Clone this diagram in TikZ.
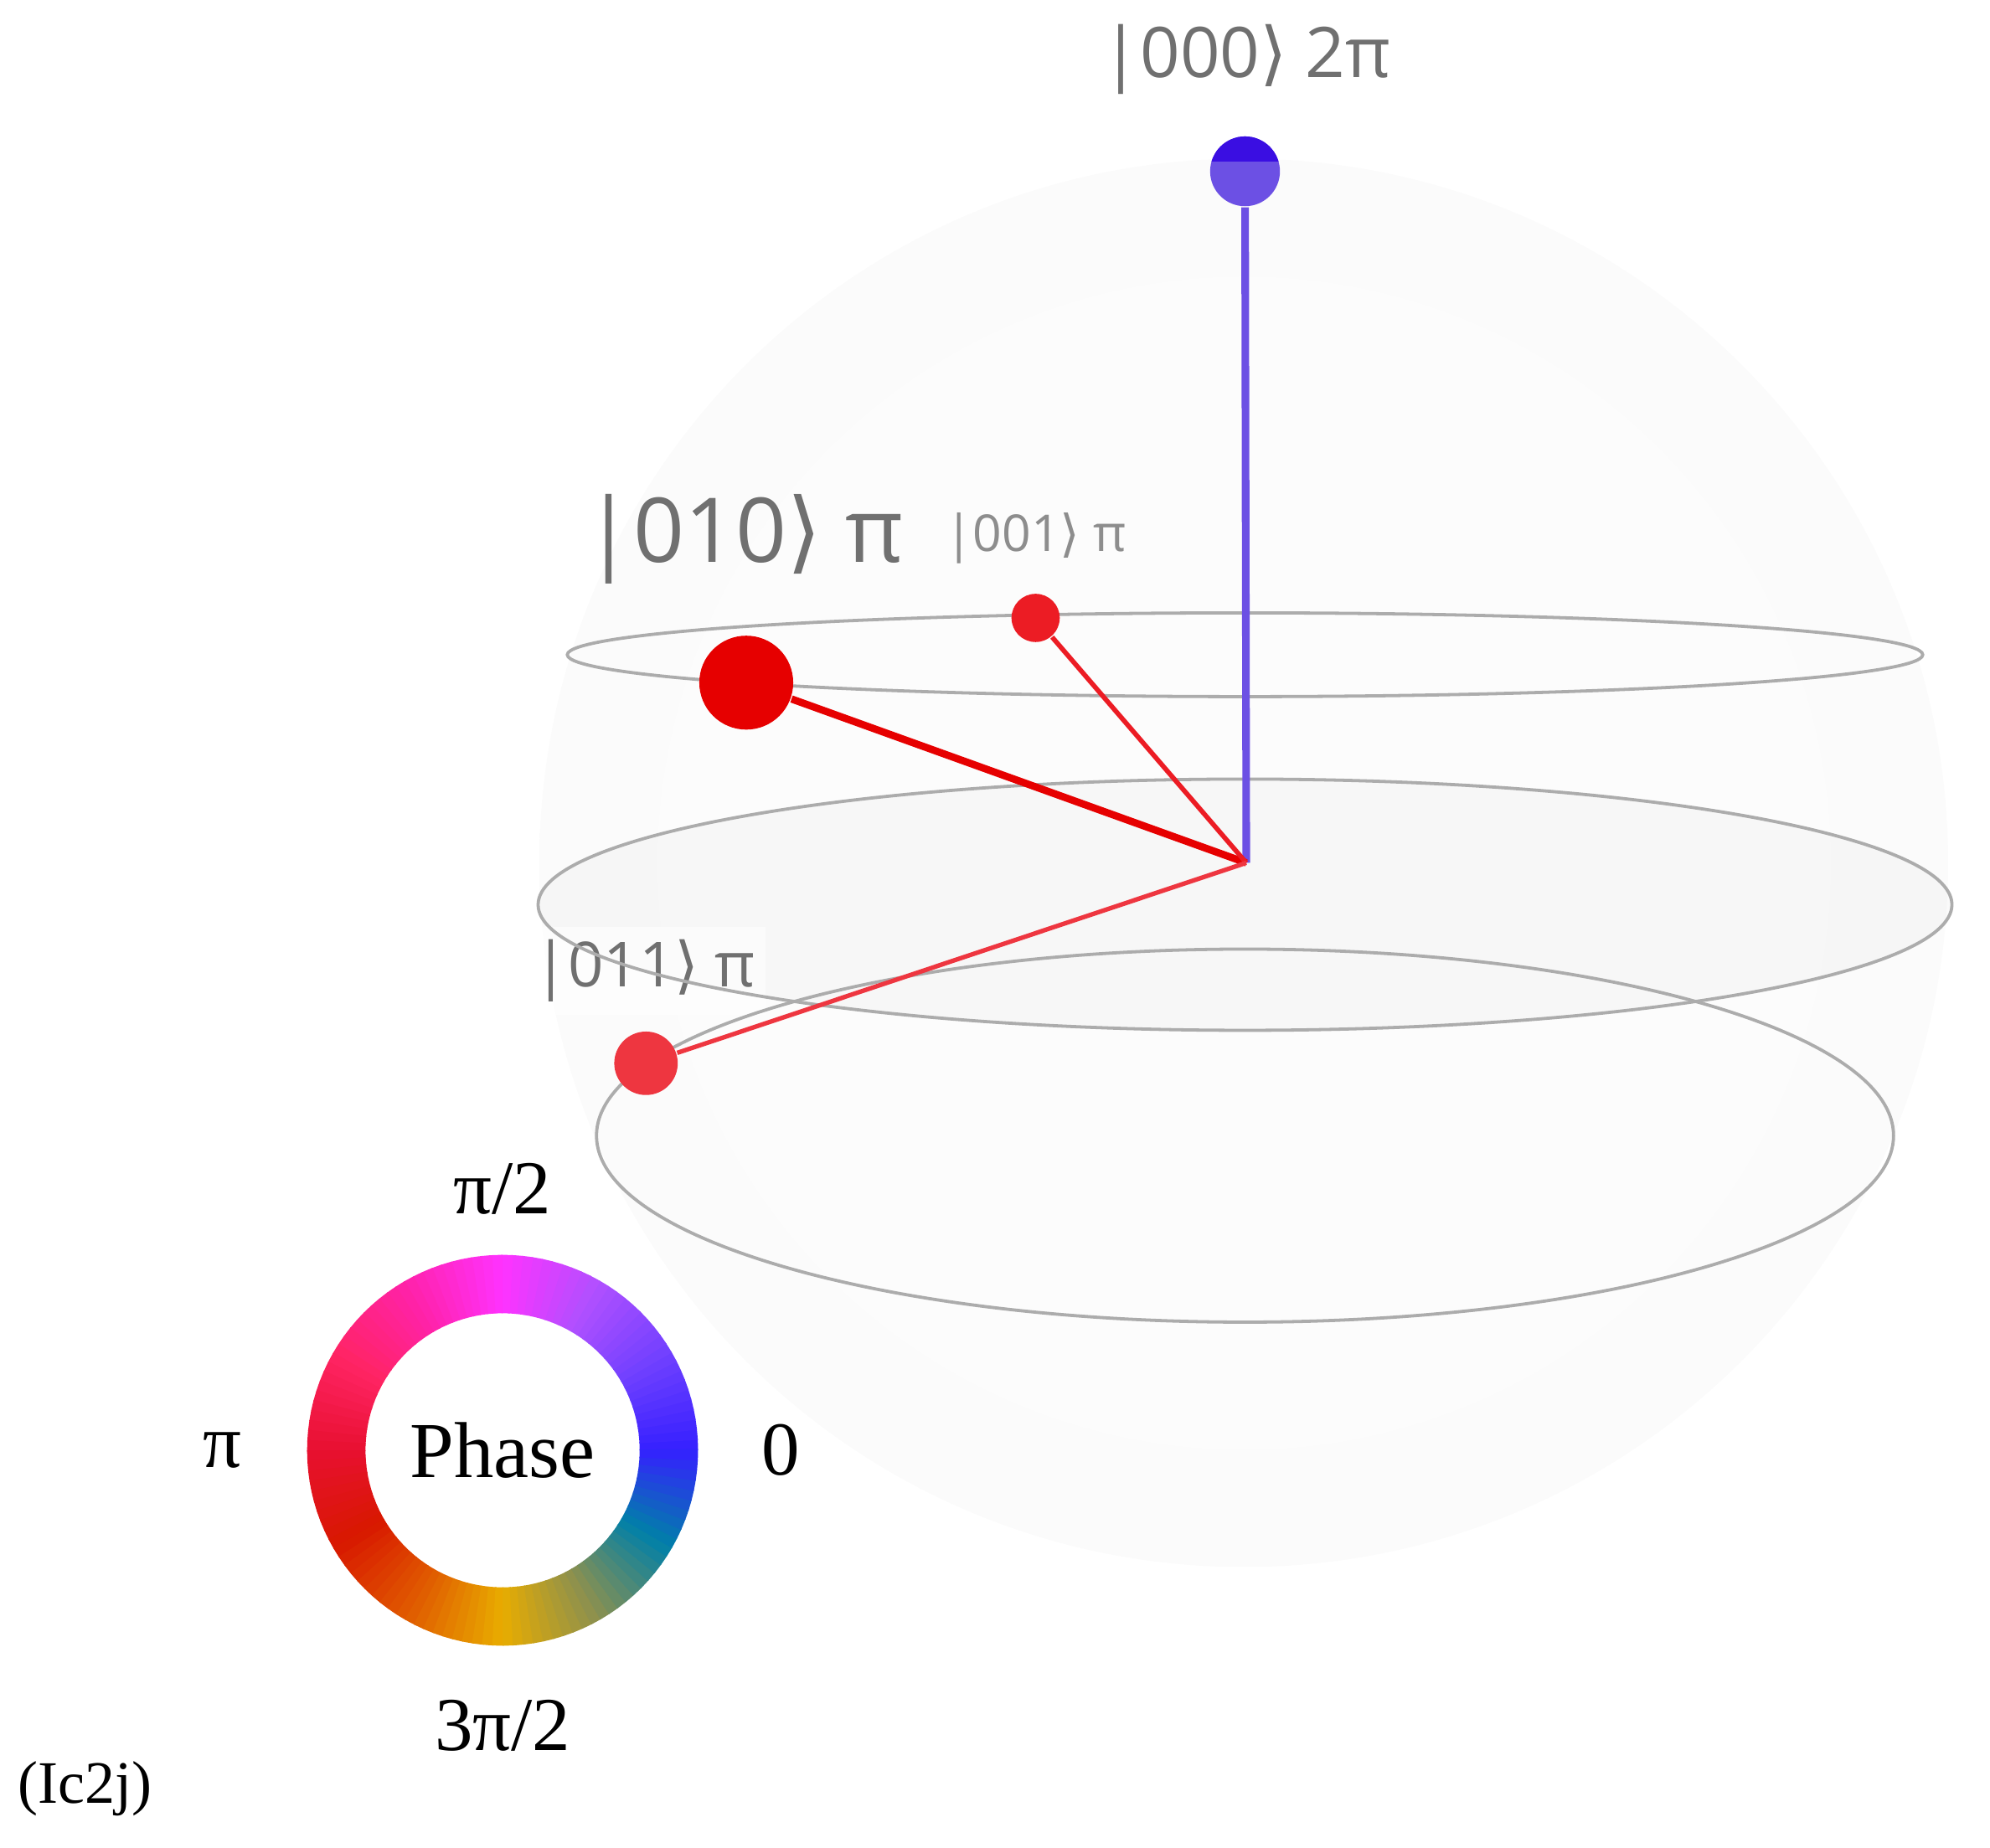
\documentclass[tikz,border=0pt]{standalone}
\usepackage{fontspec}
\setmainfont{Liberation Serif}
\newfontfamily\qsfont{Open Sans}
\newfontfamily\ketfont{DejaVu Sans}
\newcommand{\rket}{{\ketfont ⟩}}

\definecolor{lblgray}{RGB}{112,112,112}
\definecolor{ringgray}{RGB}{172,172,172}
\definecolor{qred}{RGB}{230,0,0}
\definecolor{qredmid}{RGB}{236,28,36}
\definecolor{qredlight}{RGB}{238,54,64}
\definecolor{qbluedark}{RGB}{58,14,226}
\definecolor{qblue}{RGB}{108,80,228}
% phase wheel colours, every 30 degrees
\definecolor{ph0}{RGB}{53,32,255}
\definecolor{ph1}{RGB}{112,64,255}
\definecolor{ph2}{RGB}{176,80,255}
\definecolor{ph3}{RGB}{255,50,255}
\definecolor{ph4}{RGB}{255,34,170}
\definecolor{ph5}{RGB}{255,36,100}
\definecolor{ph6}{RGB}{232,16,48}
\definecolor{ph7}{RGB}{216,24,0}
\definecolor{ph8}{RGB}{224,90,0}
\definecolor{ph9}{RGB}{232,172,0}
\definecolor{ph10}{RGB}{138,144,80}
\definecolor{ph11}{RGB}{0,128,168}
\definecolor{ph12}{RGB}{53,32,255}

\pgfdeclareradialshading{spheregray}{\pgfpoint{0bp}{0bp}}{%
  color(0bp)=(white!99!black); color(28bp)=(white!98.5!black);
  color(40bp)=(white!96.5!black); color(47bp)=(white!94!black);
  color(50bp)=(white!95!black)}

\tikzset{every picture/.style={line width=0.75pt},
  ketlabel/.style={font=\qsfont, text=lblgray, inner sep=0pt},
  ring/.style={draw=ringgray, line width=1pt},
  statedot/.style={circle, inner sep=0pt, draw=none},
  phaselabel/.style={font=\fontsize{24}{28}\selectfont, inner sep=0pt}
}

\begin{document}
\begin{tikzpicture}[x=0.4pt,y=0.4pt,yscale=-1,xscale=1]
	\useasboundingbox (0,0) rectangle (1568,1456);

	%Shape: Sphere
	\shade[shading=spheregray] (980,680) circle[radius=555];
	%Shape: Ellipse (shaded band)
	\fill[black, fill opacity=0.018] (981,713) ellipse[x radius=557, y radius=99];

	% Text Node
	\node[ketlabel, font=\qsfont\fontsize{22}{26}\selectfont] (l000) at (982,47) {|000\rket{} 2π};
	% Text Node
	\node[ketlabel, font=\qsfont\fontsize{28.2}{32}\selectfont] (l010) at (586,425) {|010\rket{} π};
	% Text Node
	\node[ketlabel, font=\qsfont\fontsize{16}{20}\selectfont, text=lblgray!80] (l001) at (816,424) {|001\rket{} π};
	% Text Node
	\node[ketlabel, font=\qsfont\fontsize{19.6}{24}\selectfont, fill=white, fill opacity=0.6, text opacity=1, inner xsep=3pt, inner ysep=4pt] (l011) at (508,765) {|011\rket{} π};

	%Shape: Rings
	\draw[ring] (981,516) ellipse[x radius=534, y radius=33];
	\draw[ring] (981,713) ellipse[x radius=557, y radius=99];
	\draw[ring] (981,895) ellipse[x radius=511, y radius=147];

	%State vectors
	\coordinate (origin) at (982,680);
	\node[statedot, fill=qblue, minimum size=22pt] (q000) at (981,135) {};
	\node[statedot, fill=qred, minimum size=29.6pt] (q010) at (588,538) {};
	\node[statedot, fill=qredmid, minimum size=15.2pt] (q001) at (816,487) {};
	\node[statedot, fill=qredlight, minimum size=20pt] (q011) at (509,838) {};
	\begin{scope}
		\clip (0,0) rectangle (1568,127);
		\fill[qbluedark] (q000.center) circle[radius=27.5];
	\end{scope}
	\draw[qblue, line width=2.4pt] (origin) -- (q000);
	\draw[qred, line width=2.3pt] (origin) -- (q010);
	\draw[qredmid, line width=1.5pt] (origin) -- (q001);
	\draw[qredlight, line width=1.4pt] (origin) -- (q011);

	%Phase wheel
	\begin{scope}[shift={(396,1143)}, yscale=-1]
		\foreach \i in {0,...,119}{
			\pgfmathtruncatemacro\k{floor(\i/10)}
			\pgfmathtruncatemacro\kn{\k+1}
			\pgfmathtruncatemacro\p{mod(\i,10)*10+5}
			\pgfmathsetmacro\a{\i*3}
			\pgfmathsetmacro\b{\i*3+3.4}
			\fill[color=ph\kn!\p!ph\k] (\a:108) arc[start angle=\a, end angle=\b, radius=108] -- (\b:154) arc[start angle=\b, end angle=\a, radius=154] -- cycle;
		}
	\end{scope}

	% Text Node
	\node[font=\fontsize{25}{30}\selectfont, inner sep=0pt] (phase) at (396,1143) {Phase};
	% Text Node
	\node[phaselabel] (ph90) at (396,937) {π/2};
	% Text Node
	\node[phaselabel] (ph180) at (175,1143) {π};
	% Text Node
	\node[phaselabel] (ph0) at (615,1143) {0};
	% Text Node
	\node[phaselabel] (ph270) at (396,1360) {3π/2};
	% Text Node
	\node[font=\fontsize{19}{23}\selectfont, inner sep=0pt] (tag) at (67,1410) {(Ic2j)};

\end{tikzpicture}
\end{document}
